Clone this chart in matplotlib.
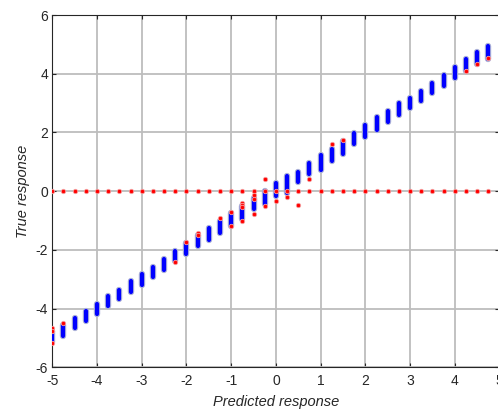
import matplotlib.pyplot as plt
import matplotlib.patheffects as pe

plt.rcParams['font.family'] = ['Liberation Sans', 'DejaVu Sans']
plt.rcParams['axes.unicode_minus'] = False

# predicted response bins (x) and spread of true response (blue bars)
pred_x = [-5, -4.75, -4.5, -4.25, -4, -3.75, -3.5, -3.25, -3, -2.75,
          -2.5, -2.25, -2, -1.75, -1.5, -1.25, -1, -0.75, -0.5, -0.25,
          0, 0.25, 0.5, 0.75, 1, 1.25, 1.5, 1.75, 2, 2.25,
          2.5, 2.75, 3, 3.25, 3.5, 3.75, 4, 4.25, 4.5, 4.75]
blue_lo = [-5.15, -4.95, -4.67, -4.41, -4.18, -3.91, -3.69, -3.44, -3.2, -2.93,
           -2.68, -2.39, -2.13, -1.88, -1.66, -1.42, -1.17, -0.95, -0.62, -0.45,
           -0.17, -0.05, 0.31, 0.57, 0.73, 1.03, 1.27, 1.61, 1.84, 2.1,
           2.35, 2.6, 2.82, 3.08, 3.33, 3.59, 3.84, 4.08, 4.32, 4.51]
blue_hi = [-4.75, -4.55, -4.32, -4.09, -3.84, -3.58, -3.35, -3.05, -2.82, -2.58,
           -2.31, -2.04, -1.78, -1.5, -1.24, -1.0, -0.75, -0.5, -0.22, 0.0,
           0.29, 0.5, 0.67, 0.95, 1.24, 1.44, 1.72, 1.98, 2.24, 2.51,
           2.74, 3.0, 3.19, 3.42, 3.7, 3.96, 4.23, 4.5, 4.73, 4.93]

# red points with true response 0 at every predicted bin
zero_x = pred_x
zero_y = [0] * len(pred_x)

# other red points near the diagonal
red_x = [-5, -5, -5, -4.75, -2.25, -2, -1.75, -1.75, -1.25, -1, -1,
         -0.75, -0.75, -0.75, -0.75, -0.5, -0.5, -0.5, -0.25, -0.25,
         0, 0.25, 0.5, 0.75, 1.25, 1.5, 4.25, 4.5, 4.75]
red_y = [-4.65, -4.75, -5.18, -4.5, -2.4, -1.72, -1.43, -1.5, -0.93, -0.7, -1.19,
         -0.4, -0.47, -0.55, -1.0, -0.12, -0.25, -0.79, 0.42, -0.51,
         -0.32, -0.19, -0.48, 0.4, 1.6, 1.75, 4.1, 4.32, 4.52]

fig = plt.figure(figsize=(4.98, 4.12), dpi=100)
ax = fig.add_axes([0.105, 0.1085, 0.898, 0.855])

ax.grid(True, color='#bdbdbd', linewidth=1.3)
ax.set_axisbelow(True)

bars = ax.vlines(pred_x, blue_lo, blue_hi, colors='#0000ff', linewidth=3.0, zorder=3)
bars.set_capstyle('round')
bars.set_path_effects([pe.Stroke(linewidth=4.6, foreground='#aab0d8'), pe.Normal()])

ax.scatter(zero_x, zero_y, s=10, color='#ff0000', edgecolors='#f5a0a0',
           linewidths=0.6, zorder=4)
ax.scatter(red_x, red_y, s=10, color='#ff0000', edgecolors='#f5a0a0',
           linewidths=0.6, zorder=4)

ax.set_xlim(-5, 5)
ax.set_ylim(-6, 6)
ax.set_xticks([-5, -4, -3, -2, -1, 0, 1, 2, 3, 4, 5])
ax.set_yticks([-6, -4, -2, 0, 2, 4, 6])
ax.tick_params(direction='in', length=3, width=0.8, colors='#262626',
               labelsize=10, top=True, right=True)
ax.tick_params(axis='x', pad=5)
ax.tick_params(axis='y', pad=3)
for s in ax.spines.values():
    s.set_color('#262626')
    s.set_linewidth(0.8)

ax.set_xlabel('Predicted response', fontsize=10.5, style='italic', color='#262626', labelpad=5)
ax.set_ylabel('True response', fontsize=10.5, style='italic', color='#262626', labelpad=4)

fig.savefig('out.png', dpi=100)
